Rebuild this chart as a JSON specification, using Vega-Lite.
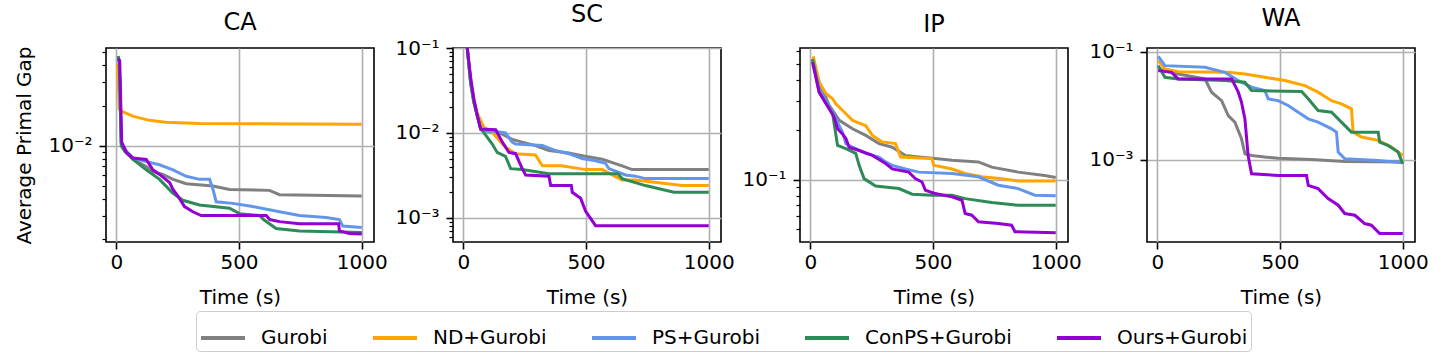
{
  "$schema": "https://vega.github.io/schema/vega-lite/v6.json",
  "padding": {"left": 14, "top": 2, "right": 5, "bottom": 0},
  "background": "white",
  "spacing": 79,
  "bounds": "flush",
  "data": {"values": [
    {"panel":"CA","method":"Gurobi","t":8,"gap":0.046},{"panel":"CA","method":"Gurobi","t":12,"gap":0.042},{"panel":"CA","method":"Gurobi","t":20,"gap":0.0106},{"panel":"CA","method":"Gurobi","t":41,"gap":0.0091},{"panel":"CA","method":"Gurobi","t":68,"gap":0.0079},{"panel":"CA","method":"Gurobi","t":122,"gap":0.0070},{"panel":"CA","method":"Gurobi","t":149,"gap":0.0064},{"panel":"CA","method":"Gurobi","t":190,"gap":0.0061},{"panel":"CA","method":"Gurobi","t":231,"gap":0.0056},{"panel":"CA","method":"Gurobi","t":285,"gap":0.0052},{"panel":"CA","method":"Gurobi","t":394,"gap":0.0050},{"panel":"CA","method":"Gurobi","t":461,"gap":0.0047},{"panel":"CA","method":"Gurobi","t":624,"gap":0.00463},{"panel":"CA","method":"Gurobi","t":665,"gap":0.0043},{"panel":"CA","method":"Gurobi","t":1000,"gap":0.0042},
    {"panel":"CA","method":"ND+Gurobi","t":5,"gap":0.041},{"panel":"CA","method":"ND+Gurobi","t":10,"gap":0.025},{"panel":"CA","method":"ND+Gurobi","t":12,"gap":0.0188},{"panel":"CA","method":"ND+Gurobi","t":25,"gap":0.0180},{"panel":"CA","method":"ND+Gurobi","t":70,"gap":0.0166},{"panel":"CA","method":"ND+Gurobi","t":135,"gap":0.0155},{"panel":"CA","method":"ND+Gurobi","t":200,"gap":0.0150},{"panel":"CA","method":"ND+Gurobi","t":340,"gap":0.0147},{"panel":"CA","method":"ND+Gurobi","t":1000,"gap":0.0145},
    {"panel":"CA","method":"PS+Gurobi","t":8,"gap":0.046},{"panel":"CA","method":"PS+Gurobi","t":12,"gap":0.042},{"panel":"CA","method":"PS+Gurobi","t":20,"gap":0.0106},{"panel":"CA","method":"PS+Gurobi","t":41,"gap":0.0091},{"panel":"CA","method":"PS+Gurobi","t":68,"gap":0.0081},{"panel":"CA","method":"PS+Gurobi","t":122,"gap":0.0076},{"panel":"CA","method":"PS+Gurobi","t":176,"gap":0.0072},{"panel":"CA","method":"PS+Gurobi","t":231,"gap":0.0066},{"panel":"CA","method":"PS+Gurobi","t":285,"gap":0.0059},{"panel":"CA","method":"PS+Gurobi","t":339,"gap":0.0056},{"panel":"CA","method":"PS+Gurobi","t":380,"gap":0.0056},{"panel":"CA","method":"PS+Gurobi","t":394,"gap":0.0047},{"panel":"CA","method":"PS+Gurobi","t":407,"gap":0.0038},{"panel":"CA","method":"PS+Gurobi","t":475,"gap":0.0037},{"panel":"CA","method":"PS+Gurobi","t":556,"gap":0.0035},{"panel":"CA","method":"PS+Gurobi","t":665,"gap":0.0032},{"panel":"CA","method":"PS+Gurobi","t":746,"gap":0.0030},{"panel":"CA","method":"PS+Gurobi","t":855,"gap":0.0029},{"panel":"CA","method":"PS+Gurobi","t":909,"gap":0.0028},{"panel":"CA","method":"PS+Gurobi","t":923,"gap":0.0025},{"panel":"CA","method":"PS+Gurobi","t":1000,"gap":0.00244},
    {"panel":"CA","method":"ConPS+Gurobi","t":8,"gap":0.047},{"panel":"CA","method":"ConPS+Gurobi","t":12,"gap":0.043},{"panel":"CA","method":"ConPS+Gurobi","t":20,"gap":0.0100},{"panel":"CA","method":"ConPS+Gurobi","t":34,"gap":0.0091},{"panel":"CA","method":"ConPS+Gurobi","t":68,"gap":0.0079},{"panel":"CA","method":"ConPS+Gurobi","t":122,"gap":0.0066},{"panel":"CA","method":"ConPS+Gurobi","t":176,"gap":0.0056},{"panel":"CA","method":"ConPS+Gurobi","t":231,"gap":0.0044},{"panel":"CA","method":"ConPS+Gurobi","t":271,"gap":0.0039},{"panel":"CA","method":"ConPS+Gurobi","t":339,"gap":0.0036},{"panel":"CA","method":"ConPS+Gurobi","t":461,"gap":0.0034},{"panel":"CA","method":"ConPS+Gurobi","t":502,"gap":0.0031},{"panel":"CA","method":"ConPS+Gurobi","t":583,"gap":0.0030},{"panel":"CA","method":"ConPS+Gurobi","t":600,"gap":0.0028},{"panel":"CA","method":"ConPS+Gurobi","t":651,"gap":0.0024},{"panel":"CA","method":"ConPS+Gurobi","t":746,"gap":0.0023},{"panel":"CA","method":"ConPS+Gurobi","t":1000,"gap":0.00224},
    {"panel":"CA","method":"Ours+Gurobi","t":8,"gap":0.045},{"panel":"CA","method":"Ours+Gurobi","t":14,"gap":0.043},{"panel":"CA","method":"Ours+Gurobi","t":22,"gap":0.0106},{"panel":"CA","method":"Ours+Gurobi","t":41,"gap":0.0089},{"panel":"CA","method":"Ours+Gurobi","t":68,"gap":0.0081},{"panel":"CA","method":"Ours+Gurobi","t":122,"gap":0.0079},{"panel":"CA","method":"Ours+Gurobi","t":149,"gap":0.0066},{"panel":"CA","method":"Ours+Gurobi","t":176,"gap":0.0061},{"panel":"CA","method":"Ours+Gurobi","t":217,"gap":0.0053},{"panel":"CA","method":"Ours+Gurobi","t":231,"gap":0.0047},{"panel":"CA","method":"Ours+Gurobi","t":251,"gap":0.0042},{"panel":"CA","method":"Ours+Gurobi","t":278,"gap":0.0035},{"panel":"CA","method":"Ours+Gurobi","t":312,"gap":0.0032},{"panel":"CA","method":"Ours+Gurobi","t":346,"gap":0.0030},{"panel":"CA","method":"Ours+Gurobi","t":611,"gap":0.0030},{"panel":"CA","method":"Ours+Gurobi","t":625,"gap":0.0028},{"panel":"CA","method":"Ours+Gurobi","t":665,"gap":0.0027},{"panel":"CA","method":"Ours+Gurobi","t":746,"gap":0.0026},{"panel":"CA","method":"Ours+Gurobi","t":906,"gap":0.0026},{"panel":"CA","method":"Ours+Gurobi","t":909,"gap":0.0023},{"panel":"CA","method":"Ours+Gurobi","t":950,"gap":0.0022},{"panel":"CA","method":"Ours+Gurobi","t":1000,"gap":0.00218},

    {"panel":"SC","method":"Gurobi","t":16,"gap":0.1},{"panel":"SC","method":"Gurobi","t":30,"gap":0.039},{"panel":"SC","method":"Gurobi","t":43,"gap":0.023},{"panel":"SC","method":"Gurobi","t":57,"gap":0.016},{"panel":"SC","method":"Gurobi","t":71,"gap":0.0111},{"panel":"SC","method":"Gurobi","t":77,"gap":0.0107},{"panel":"SC","method":"Gurobi","t":159,"gap":0.0097},{"panel":"SC","method":"Gurobi","t":199,"gap":0.0084},{"panel":"SC","method":"Gurobi","t":240,"gap":0.0078},{"panel":"SC","method":"Gurobi","t":294,"gap":0.0071},{"panel":"SC","method":"Gurobi","t":349,"gap":0.0062},{"panel":"SC","method":"Gurobi","t":430,"gap":0.0058},{"panel":"SC","method":"Gurobi","t":484,"gap":0.0054},{"panel":"SC","method":"Gurobi","t":566,"gap":0.0049},{"panel":"SC","method":"Gurobi","t":647,"gap":0.0041},{"panel":"SC","method":"Gurobi","t":688,"gap":0.0037},{"panel":"SC","method":"Gurobi","t":1000,"gap":0.0037},
    {"panel":"SC","method":"ND+Gurobi","t":16,"gap":0.1},{"panel":"SC","method":"ND+Gurobi","t":30,"gap":0.04},{"panel":"SC","method":"ND+Gurobi","t":43,"gap":0.025},{"panel":"SC","method":"ND+Gurobi","t":57,"gap":0.017},{"panel":"SC","method":"ND+Gurobi","t":84,"gap":0.0116},{"panel":"SC","method":"ND+Gurobi","t":118,"gap":0.0102},{"panel":"SC","method":"ND+Gurobi","t":152,"gap":0.0078},{"panel":"SC","method":"ND+Gurobi","t":172,"gap":0.0068},{"panel":"SC","method":"ND+Gurobi","t":213,"gap":0.0057},{"panel":"SC","method":"ND+Gurobi","t":294,"gap":0.0055},{"panel":"SC","method":"ND+Gurobi","t":322,"gap":0.0041},{"panel":"SC","method":"ND+Gurobi","t":400,"gap":0.0041},{"panel":"SC","method":"ND+Gurobi","t":498,"gap":0.0037},{"panel":"SC","method":"ND+Gurobi","t":566,"gap":0.0037},{"panel":"SC","method":"ND+Gurobi","t":647,"gap":0.0028},{"panel":"SC","method":"ND+Gurobi","t":701,"gap":0.0028},{"panel":"SC","method":"ND+Gurobi","t":891,"gap":0.0024},{"panel":"SC","method":"ND+Gurobi","t":1000,"gap":0.0024},
    {"panel":"SC","method":"PS+Gurobi","t":16,"gap":0.1},{"panel":"SC","method":"PS+Gurobi","t":30,"gap":0.039},{"panel":"SC","method":"PS+Gurobi","t":43,"gap":0.023},{"panel":"SC","method":"PS+Gurobi","t":57,"gap":0.016},{"panel":"SC","method":"PS+Gurobi","t":71,"gap":0.0111},{"panel":"SC","method":"PS+Gurobi","t":77,"gap":0.0107},{"panel":"SC","method":"PS+Gurobi","t":132,"gap":0.0104},{"panel":"SC","method":"PS+Gurobi","t":172,"gap":0.0100},{"panel":"SC","method":"PS+Gurobi","t":199,"gap":0.0078},{"panel":"SC","method":"PS+Gurobi","t":213,"gap":0.0074},{"panel":"SC","method":"PS+Gurobi","t":322,"gap":0.0071},{"panel":"SC","method":"PS+Gurobi","t":376,"gap":0.0062},{"panel":"SC","method":"PS+Gurobi","t":430,"gap":0.0057},{"panel":"SC","method":"PS+Gurobi","t":484,"gap":0.0050},{"panel":"SC","method":"PS+Gurobi","t":539,"gap":0.0047},{"panel":"SC","method":"PS+Gurobi","t":579,"gap":0.0044},{"panel":"SC","method":"PS+Gurobi","t":593,"gap":0.0038},{"panel":"SC","method":"PS+Gurobi","t":661,"gap":0.0032},{"panel":"SC","method":"PS+Gurobi","t":701,"gap":0.0031},{"panel":"SC","method":"PS+Gurobi","t":742,"gap":0.0029},{"panel":"SC","method":"PS+Gurobi","t":1000,"gap":0.0029},
    {"panel":"SC","method":"ConPS+Gurobi","t":16,"gap":0.1},{"panel":"SC","method":"ConPS+Gurobi","t":30,"gap":0.039},{"panel":"SC","method":"ConPS+Gurobi","t":43,"gap":0.023},{"panel":"SC","method":"ConPS+Gurobi","t":57,"gap":0.016},{"panel":"SC","method":"ConPS+Gurobi","t":71,"gap":0.0111},{"panel":"SC","method":"ConPS+Gurobi","t":77,"gap":0.0107},{"panel":"SC","method":"ConPS+Gurobi","t":118,"gap":0.0074},{"panel":"SC","method":"ConPS+Gurobi","t":138,"gap":0.0059},{"panel":"SC","method":"ConPS+Gurobi","t":172,"gap":0.0053},{"panel":"SC","method":"ConPS+Gurobi","t":193,"gap":0.0038},{"panel":"SC","method":"ConPS+Gurobi","t":240,"gap":0.0037},{"panel":"SC","method":"ConPS+Gurobi","t":349,"gap":0.0033},{"panel":"SC","method":"ConPS+Gurobi","t":630,"gap":0.0033},{"panel":"SC","method":"ConPS+Gurobi","t":647,"gap":0.0029},{"panel":"SC","method":"ConPS+Gurobi","t":742,"gap":0.0024},{"panel":"SC","method":"ConPS+Gurobi","t":858,"gap":0.0020},{"panel":"SC","method":"ConPS+Gurobi","t":1000,"gap":0.0020},
    {"panel":"SC","method":"Ours+Gurobi","t":16,"gap":0.1},{"panel":"SC","method":"Ours+Gurobi","t":30,"gap":0.045},{"panel":"SC","method":"Ours+Gurobi","t":43,"gap":0.025},{"panel":"SC","method":"Ours+Gurobi","t":57,"gap":0.016},{"panel":"SC","method":"Ours+Gurobi","t":71,"gap":0.0111},{"panel":"SC","method":"Ours+Gurobi","t":132,"gap":0.0109},{"panel":"SC","method":"Ours+Gurobi","t":159,"gap":0.0078},{"panel":"SC","method":"Ours+Gurobi","t":186,"gap":0.0059},{"panel":"SC","method":"Ours+Gurobi","t":213,"gap":0.0057},{"panel":"SC","method":"Ours+Gurobi","t":240,"gap":0.0038},{"panel":"SC","method":"Ours+Gurobi","t":254,"gap":0.0032},{"panel":"SC","method":"Ours+Gurobi","t":349,"gap":0.0031},{"panel":"SC","method":"Ours+Gurobi","t":356,"gap":0.0024},{"panel":"SC","method":"Ours+Gurobi","t":440,"gap":0.0024},{"panel":"SC","method":"Ours+Gurobi","t":444,"gap":0.0020},{"panel":"SC","method":"Ours+Gurobi","t":478,"gap":0.0017},{"panel":"SC","method":"Ours+Gurobi","t":498,"gap":0.0012},{"panel":"SC","method":"Ours+Gurobi","t":539,"gap":0.00081},{"panel":"SC","method":"Ours+Gurobi","t":1000,"gap":0.00081},

    {"panel":"IP","method":"Gurobi","t":9,"gap":0.536},{"panel":"IP","method":"Gurobi","t":36,"gap":0.388},{"panel":"IP","method":"Gurobi","t":77,"gap":0.281},{"panel":"IP","method":"Gurobi","t":118,"gap":0.228},{"panel":"IP","method":"Gurobi","t":172,"gap":0.203},{"panel":"IP","method":"Gurobi","t":226,"gap":0.185},{"panel":"IP","method":"Gurobi","t":280,"gap":0.165},{"panel":"IP","method":"Gurobi","t":334,"gap":0.157},{"panel":"IP","method":"Gurobi","t":388,"gap":0.140},{"panel":"IP","method":"Gurobi","t":442,"gap":0.137},{"panel":"IP","method":"Gurobi","t":509,"gap":0.134},{"panel":"IP","method":"Gurobi","t":577,"gap":0.131},{"panel":"IP","method":"Gurobi","t":685,"gap":0.128},{"panel":"IP","method":"Gurobi","t":739,"gap":0.119},{"panel":"IP","method":"Gurobi","t":847,"gap":0.111},{"panel":"IP","method":"Gurobi","t":955,"gap":0.106},{"panel":"IP","method":"Gurobi","t":1000,"gap":0.103},
    {"panel":"IP","method":"ND+Gurobi","t":12,"gap":0.556},{"panel":"IP","method":"ND+Gurobi","t":36,"gap":0.388},{"panel":"IP","method":"ND+Gurobi","t":64,"gap":0.330},{"panel":"IP","method":"ND+Gurobi","t":91,"gap":0.308},{"panel":"IP","method":"ND+Gurobi","t":104,"gap":0.287},{"panel":"IP","method":"ND+Gurobi","t":145,"gap":0.250},{"panel":"IP","method":"ND+Gurobi","t":172,"gap":0.228},{"panel":"IP","method":"ND+Gurobi","t":226,"gap":0.212},{"panel":"IP","method":"ND+Gurobi","t":253,"gap":0.185},{"panel":"IP","method":"ND+Gurobi","t":293,"gap":0.169},{"panel":"IP","method":"ND+Gurobi","t":347,"gap":0.165},{"panel":"IP","method":"ND+Gurobi","t":368,"gap":0.137},{"panel":"IP","method":"ND+Gurobi","t":442,"gap":0.135},{"panel":"IP","method":"ND+Gurobi","t":496,"gap":0.134},{"panel":"IP","method":"ND+Gurobi","t":503,"gap":0.122},{"panel":"IP","method":"ND+Gurobi","t":577,"gap":0.116},{"panel":"IP","method":"ND+Gurobi","t":631,"gap":0.109},{"panel":"IP","method":"ND+Gurobi","t":699,"gap":0.104},{"panel":"IP","method":"ND+Gurobi","t":780,"gap":0.1014},{"panel":"IP","method":"ND+Gurobi","t":847,"gap":0.098},{"panel":"IP","method":"ND+Gurobi","t":1000,"gap":0.098},
    {"panel":"IP","method":"PS+Gurobi","t":9,"gap":0.524},{"panel":"IP","method":"PS+Gurobi","t":36,"gap":0.353},{"panel":"IP","method":"PS+Gurobi","t":91,"gap":0.256},{"panel":"IP","method":"PS+Gurobi","t":104,"gap":0.233},{"panel":"IP","method":"PS+Gurobi","t":131,"gap":0.194},{"panel":"IP","method":"PS+Gurobi","t":145,"gap":0.165},{"panel":"IP","method":"PS+Gurobi","t":172,"gap":0.157},{"panel":"IP","method":"PS+Gurobi","t":226,"gap":0.144},{"panel":"IP","method":"PS+Gurobi","t":280,"gap":0.137},{"panel":"IP","method":"PS+Gurobi","t":307,"gap":0.128},{"panel":"IP","method":"PS+Gurobi","t":334,"gap":0.122},{"panel":"IP","method":"PS+Gurobi","t":388,"gap":0.116},{"panel":"IP","method":"PS+Gurobi","t":442,"gap":0.111},{"panel":"IP","method":"PS+Gurobi","t":577,"gap":0.109},{"panel":"IP","method":"PS+Gurobi","t":685,"gap":0.104},{"panel":"IP","method":"PS+Gurobi","t":766,"gap":0.0925},{"panel":"IP","method":"PS+Gurobi","t":847,"gap":0.0883},{"panel":"IP","method":"PS+Gurobi","t":915,"gap":0.0805},{"panel":"IP","method":"PS+Gurobi","t":1000,"gap":0.0798},
    {"panel":"IP","method":"ConPS+Gurobi","t":9,"gap":0.536},{"panel":"IP","method":"ConPS+Gurobi","t":36,"gap":0.337},{"panel":"IP","method":"ConPS+Gurobi","t":91,"gap":0.250},{"panel":"IP","method":"ConPS+Gurobi","t":111,"gap":0.161},{"panel":"IP","method":"ConPS+Gurobi","t":145,"gap":0.154},{"panel":"IP","method":"ConPS+Gurobi","t":185,"gap":0.144},{"panel":"IP","method":"ConPS+Gurobi","t":199,"gap":0.122},{"panel":"IP","method":"ConPS+Gurobi","t":219,"gap":0.1014},{"panel":"IP","method":"ConPS+Gurobi","t":266,"gap":0.0916},{"panel":"IP","method":"ConPS+Gurobi","t":361,"gap":0.0883},{"panel":"IP","method":"ConPS+Gurobi","t":415,"gap":0.0816},{"panel":"IP","method":"ConPS+Gurobi","t":496,"gap":0.0805},{"panel":"IP","method":"ConPS+Gurobi","t":577,"gap":0.0805},{"panel":"IP","method":"ConPS+Gurobi","t":631,"gap":0.0768},{"panel":"IP","method":"ConPS+Gurobi","t":739,"gap":0.0727},{"panel":"IP","method":"ConPS+Gurobi","t":847,"gap":0.070},{"panel":"IP","method":"ConPS+Gurobi","t":1000,"gap":0.070},
    {"panel":"IP","method":"Ours+Gurobi","t":9,"gap":0.512},{"panel":"IP","method":"Ours+Gurobi","t":36,"gap":0.337},{"panel":"IP","method":"Ours+Gurobi","t":64,"gap":0.287},{"panel":"IP","method":"Ours+Gurobi","t":97,"gap":0.239},{"panel":"IP","method":"Ours+Gurobi","t":111,"gap":0.203},{"panel":"IP","method":"Ours+Gurobi","t":131,"gap":0.189},{"panel":"IP","method":"Ours+Gurobi","t":145,"gap":0.177},{"panel":"IP","method":"Ours+Gurobi","t":158,"gap":0.157},{"panel":"IP","method":"Ours+Gurobi","t":199,"gap":0.150},{"panel":"IP","method":"Ours+Gurobi","t":253,"gap":0.140},{"panel":"IP","method":"Ours+Gurobi","t":307,"gap":0.125},{"panel":"IP","method":"Ours+Gurobi","t":334,"gap":0.116},{"panel":"IP","method":"Ours+Gurobi","t":401,"gap":0.111},{"panel":"IP","method":"Ours+Gurobi","t":428,"gap":0.1014},{"panel":"IP","method":"Ours+Gurobi","t":455,"gap":0.0968},{"panel":"IP","method":"Ours+Gurobi","t":469,"gap":0.0863},{"panel":"IP","method":"Ours+Gurobi","t":509,"gap":0.0824},{"panel":"IP","method":"Ours+Gurobi","t":577,"gap":0.0787},{"panel":"IP","method":"Ours+Gurobi","t":618,"gap":0.0751},{"panel":"IP","method":"Ours+Gurobi","t":631,"gap":0.0624},{"panel":"IP","method":"Ours+Gurobi","t":658,"gap":0.0610},{"panel":"IP","method":"Ours+Gurobi","t":672,"gap":0.0582},{"panel":"IP","method":"Ours+Gurobi","t":685,"gap":0.0556},{"panel":"IP","method":"Ours+Gurobi","t":766,"gap":0.0543},{"panel":"IP","method":"Ours+Gurobi","t":820,"gap":0.0531},{"panel":"IP","method":"Ours+Gurobi","t":834,"gap":0.0484},{"panel":"IP","method":"Ours+Gurobi","t":1000,"gap":0.0478},

    {"panel":"WA","method":"Gurobi","t":4,"gap":0.0478},{"panel":"WA","method":"Gurobi","t":85,"gap":0.0387},{"panel":"WA","method":"Gurobi","t":194,"gap":0.0313},{"panel":"WA","method":"Gurobi","t":221,"gap":0.0178},{"panel":"WA","method":"Gurobi","t":262,"gap":0.0124},{"panel":"WA","method":"Gurobi","t":289,"gap":0.00658},{"panel":"WA","method":"Gurobi","t":316,"gap":0.00496},{"panel":"WA","method":"Gurobi","t":343,"gap":0.00244},{"panel":"WA","method":"Gurobi","t":357,"gap":0.00129},{"panel":"WA","method":"Gurobi","t":384,"gap":0.0012},{"panel":"WA","method":"Gurobi","t":438,"gap":0.00112},{"panel":"WA","method":"Gurobi","t":493,"gap":0.00107},{"panel":"WA","method":"Gurobi","t":628,"gap":0.00101},{"panel":"WA","method":"Gurobi","t":764,"gap":0.00093},{"panel":"WA","method":"Gurobi","t":1000,"gap":0.00091},
    {"panel":"WA","method":"ND+Gurobi","t":4,"gap":0.0683},{"panel":"WA","method":"ND+Gurobi","t":31,"gap":0.0478},{"panel":"WA","method":"ND+Gurobi","t":85,"gap":0.0427},{"panel":"WA","method":"ND+Gurobi","t":289,"gap":0.0415},{"panel":"WA","method":"ND+Gurobi","t":357,"gap":0.0387},{"panel":"WA","method":"ND+Gurobi","t":438,"gap":0.0336},{"panel":"WA","method":"ND+Gurobi","t":520,"gap":0.0292},{"panel":"WA","method":"ND+Gurobi","t":601,"gap":0.0236},{"panel":"WA","method":"ND+Gurobi","t":655,"gap":0.0178},{"panel":"WA","method":"ND+Gurobi","t":710,"gap":0.0124},{"panel":"WA","method":"ND+Gurobi","t":750,"gap":0.0108},{"panel":"WA","method":"ND+Gurobi","t":791,"gap":0.00875},{"panel":"WA","method":"ND+Gurobi","t":798,"gap":0.00324},{"panel":"WA","method":"ND+Gurobi","t":832,"gap":0.00263},{"panel":"WA","method":"ND+Gurobi","t":900,"gap":0.00228},{"panel":"WA","method":"ND+Gurobi","t":954,"gap":0.00171},{"panel":"WA","method":"ND+Gurobi","t":1000,"gap":0.0012},
    {"panel":"WA","method":"PS+Gurobi","t":4,"gap":0.082},{"panel":"WA","method":"PS+Gurobi","t":31,"gap":0.0552},{"panel":"WA","method":"PS+Gurobi","t":194,"gap":0.0514},{"panel":"WA","method":"PS+Gurobi","t":275,"gap":0.0415},{"panel":"WA","method":"PS+Gurobi","t":330,"gap":0.0292},{"panel":"WA","method":"PS+Gurobi","t":384,"gap":0.0220},{"panel":"WA","method":"PS+Gurobi","t":438,"gap":0.0191},{"panel":"WA","method":"PS+Gurobi","t":452,"gap":0.0134},{"panel":"WA","method":"PS+Gurobi","t":493,"gap":0.0124},{"panel":"WA","method":"PS+Gurobi","t":533,"gap":0.0101},{"panel":"WA","method":"PS+Gurobi","t":574,"gap":0.00759},{"panel":"WA","method":"PS+Gurobi","t":615,"gap":0.00571},{"panel":"WA","method":"PS+Gurobi","t":655,"gap":0.00496},{"panel":"WA","method":"PS+Gurobi","t":710,"gap":0.00373},{"panel":"WA","method":"PS+Gurobi","t":730,"gap":0.00324},{"panel":"WA","method":"PS+Gurobi","t":737,"gap":0.00139},{"panel":"WA","method":"PS+Gurobi","t":764,"gap":0.00104},{"panel":"WA","method":"PS+Gurobi","t":900,"gap":0.00097},{"panel":"WA","method":"PS+Gurobi","t":1000,"gap":0.00088},
    {"panel":"WA","method":"ConPS+Gurobi","t":4,"gap":0.0552},{"panel":"WA","method":"ConPS+Gurobi","t":31,"gap":0.0336},{"panel":"WA","method":"ConPS+Gurobi","t":85,"gap":0.0313},{"panel":"WA","method":"ConPS+Gurobi","t":275,"gap":0.0292},{"panel":"WA","method":"ConPS+Gurobi","t":357,"gap":0.0272},{"panel":"WA","method":"ConPS+Gurobi","t":384,"gap":0.0191},{"panel":"WA","method":"ConPS+Gurobi","t":588,"gap":0.0183},{"panel":"WA","method":"ConPS+Gurobi","t":615,"gap":0.0134},{"panel":"WA","method":"ConPS+Gurobi","t":655,"gap":0.00815},{"panel":"WA","method":"ConPS+Gurobi","t":710,"gap":0.00759},{"panel":"WA","method":"ConPS+Gurobi","t":750,"gap":0.00496},{"panel":"WA","method":"ConPS+Gurobi","t":791,"gap":0.00324},{"panel":"WA","method":"ConPS+Gurobi","t":900,"gap":0.00324},{"panel":"WA","method":"ConPS+Gurobi","t":906,"gap":0.00212},{"panel":"WA","method":"ConPS+Gurobi","t":940,"gap":0.00184},{"panel":"WA","method":"ConPS+Gurobi","t":981,"gap":0.00139},{"panel":"WA","method":"ConPS+Gurobi","t":1000,"gap":0.00084},
    {"panel":"WA","method":"Ours+Gurobi","t":4,"gap":0.0446},{"panel":"WA","method":"Ours+Gurobi","t":58,"gap":0.0415},{"panel":"WA","method":"Ours+Gurobi","t":85,"gap":0.0313},{"panel":"WA","method":"Ours+Gurobi","t":303,"gap":0.0313},{"panel":"WA","method":"Ours+Gurobi","t":330,"gap":0.0178},{"panel":"WA","method":"Ours+Gurobi","t":343,"gap":0.0116},{"panel":"WA","method":"Ours+Gurobi","t":357,"gap":0.00571},{"panel":"WA","method":"Ours+Gurobi","t":370,"gap":0.0012},{"panel":"WA","method":"Ours+Gurobi","t":384,"gap":0.00055},{"panel":"WA","method":"Ours+Gurobi","t":493,"gap":0.00051},{"panel":"WA","method":"Ours+Gurobi","t":608,"gap":0.00051},{"panel":"WA","method":"Ours+Gurobi","t":615,"gap":0.000336},{"panel":"WA","method":"Ours+Gurobi","t":655,"gap":0.000292},{"panel":"WA","method":"Ours+Gurobi","t":696,"gap":0.000191},{"panel":"WA","method":"Ours+Gurobi","t":737,"gap":0.000144},{"panel":"WA","method":"Ours+Gurobi","t":764,"gap":0.000101},{"panel":"WA","method":"Ours+Gurobi","t":805,"gap":0.0000938},{"panel":"WA","method":"Ours+Gurobi","t":845,"gap":0.0000658},{"panel":"WA","method":"Ours+Gurobi","t":872,"gap":0.0000614},{"panel":"WA","method":"Ours+Gurobi","t":906,"gap":0.000043},{"panel":"WA","method":"Ours+Gurobi","t":1000,"gap":0.000043}
  ]},
  "hconcat": [
    {
      "width": 268, "height": 194,
      "title": "CA",
      "transform": [{"filter": "datum.panel === 'CA'"}],
      "layer": [
        {
          "mark": {"type": "line", "strokeWidth": 3, "clip": true},
          "encoding": {
            "x": {"field": "t", "type": "quantitative", "scale": {"domain": [-42, 1050], "nice": false}, "axis": {"values": [0, 500, 1000], "format": "d", "title": "Time (s)", "grid": true}},
            "y": {"field": "gap", "type": "quantitative", "scale": {"type": "log", "domain": [0.0019, 0.054], "nice": false}, "axis": {"values": [0.01], "title": "Average Primal Gap", "grid": true, "labelExpr": "'10⁻' + ['⁰','¹','²','³','⁴'][round(-log(datum.value)/LN10)]"}},
            "color": {"field": "method", "type": "nominal", "scale": {"domain": ["Gurobi", "ND+Gurobi", "PS+Gurobi", "ConPS+Gurobi", "Ours+Gurobi"], "range": ["#808080", "#ffa500", "#6495ed", "#2e8b57", "#9400d3"]}, "legend": {"orient": "none", "direction": "horizontal", "legendX": 90, "legendY": 263, "title": null, "symbolType": "stroke", "symbolSize": 1936, "symbolStrokeWidth": 4, "labelFontSize": 20, "labelOffset": 14, "columnPadding": 37, "padding": 3, "strokeColor": "#cccccc", "cornerRadius": 4, "fillColor": "white", "labelColor": "black"}}
          }
        },
        {
          "mark": {"type": "line", "opacity": 0},
          "encoding": {
            "x": {"field": "t", "type": "quantitative", "axis": {"values": [0, 500, 1000], "format": "d", "title": "Time (s)", "grid": true}},
            "y": {"field": "gap", "type": "quantitative", "axis": {"orient": "left", "values": [0.002,0.003,0.004,0.005,0.006,0.007,0.008,0.009,0.02,0.03,0.04,0.05], "labels": false, "grid": false, "tickSize": 4, "tickWidth": 1.2, "title": null}}
          }
        }
      ],
      "resolve": {"axis": {"y": "independent"}}
    },
    {
      "width": 268, "height": 194,
      "title": "SC",
      "transform": [{"filter": "datum.panel === 'SC'"}],
      "layer": [
        {
          "mark": {"type": "line", "strokeWidth": 3, "clip": true},
          "encoding": {
            "x": {"field": "t", "type": "quantitative", "scale": {"domain": [-42, 1050], "nice": false}, "axis": {"values": [0, 500, 1000], "format": "d", "title": "Time (s)", "grid": true}},
            "y": {"field": "gap", "type": "quantitative", "scale": {"type": "log", "domain": [0.00052, 0.1], "nice": false}, "axis": {"values": [0.001, 0.01, 0.1], "title": null, "grid": true, "labelExpr": "'10⁻' + ['⁰','¹','²','³','⁴'][round(-log(datum.value)/LN10)]"}},
            "color": {"field": "method", "type": "nominal"}
          }
        },
        {
          "mark": {"type": "line", "opacity": 0},
          "encoding": {
            "x": {"field": "t", "type": "quantitative", "axis": {"values": [0, 500, 1000], "format": "d", "title": "Time (s)", "grid": true}},
            "y": {"field": "gap", "type": "quantitative", "axis": {"orient": "left", "values": [0.0006,0.0007,0.0008,0.0009,0.002,0.003,0.004,0.005,0.006,0.007,0.008,0.009,0.02,0.03,0.04,0.05,0.06,0.07,0.08,0.09], "labels": false, "grid": false, "tickSize": 4, "tickWidth": 1.2, "title": null}}
          }
        }
      ],
      "resolve": {"axis": {"y": "independent"}}
    },
    {
      "width": 268, "height": 194,
      "title": "IP",
      "transform": [{"filter": "datum.panel === 'IP'"}],
      "layer": [
        {
          "mark": {"type": "line", "strokeWidth": 3, "clip": true},
          "encoding": {
            "x": {"field": "t", "type": "quantitative", "scale": {"domain": [-42, 1050], "nice": false}, "axis": {"values": [0, 500, 1000], "format": "d", "title": "Time (s)", "grid": true}},
            "y": {"field": "gap", "type": "quantitative", "scale": {"type": "log", "domain": [0.042, 0.624], "nice": false}, "axis": {"values": [0.1], "title": null, "grid": true, "labelExpr": "'10⁻' + ['⁰','¹','²','³','⁴'][round(-log(datum.value)/LN10)]"}},
            "color": {"field": "method", "type": "nominal"}
          }
        },
        {
          "mark": {"type": "line", "opacity": 0},
          "encoding": {
            "x": {"field": "t", "type": "quantitative", "axis": {"values": [0, 500, 1000], "format": "d", "title": "Time (s)", "grid": true}},
            "y": {"field": "gap", "type": "quantitative", "axis": {"orient": "left", "values": [0.05,0.06,0.07,0.08,0.09,0.2,0.3,0.4,0.5,0.6], "labels": false, "grid": false, "tickSize": 4, "tickWidth": 1.2, "title": null}}
          }
        }
      ],
      "resolve": {"axis": {"y": "independent"}}
    },
    {
      "width": 268, "height": 194,
      "title": "WA",
      "transform": [{"filter": "datum.panel === 'WA'"}],
      "mark": {"type": "line", "strokeWidth": 3, "clip": true},
      "encoding": {
        "x": {"field": "t", "type": "quantitative", "scale": {"domain": [-42, 1050], "nice": false}, "axis": {"values": [0, 500, 1000], "format": "d", "title": "Time (s)", "grid": true}},
        "y": {"field": "gap", "type": "quantitative", "scale": {"type": "log", "domain": [0.00003, 0.117], "nice": false}, "axis": {"values": [0.001, 0.1], "title": null, "grid": true, "labelExpr": "'10⁻' + ['⁰','¹','²','³','⁴'][round(-log(datum.value)/LN10)]"}},
        "color": {"field": "method", "type": "nominal"}
      }
    }
  ],
  "config": {
    "font": "DejaVu Sans",
    "view": {"stroke": "black", "strokeWidth": 1.6},
    "axis": {"domain": false, "tickColor": "black", "tickWidth": 1.6, "tickSize": 7, "labelFontSize": 20, "labelColor": "black", "titleFontSize": 20, "titleFontWeight": "normal", "titleColor": "black", "gridColor": "#b0b0b0", "gridWidth": 1.6},
    "axisX": {"titlePadding": 15, "labelPadding": 3},
    "axisY": {"titlePadding": 13, "labelPadding": 7},
    "title": {"fontSize": 24, "fontWeight": "normal", "offset": 11, "color": "black", "frame": "group"}
  }
}
